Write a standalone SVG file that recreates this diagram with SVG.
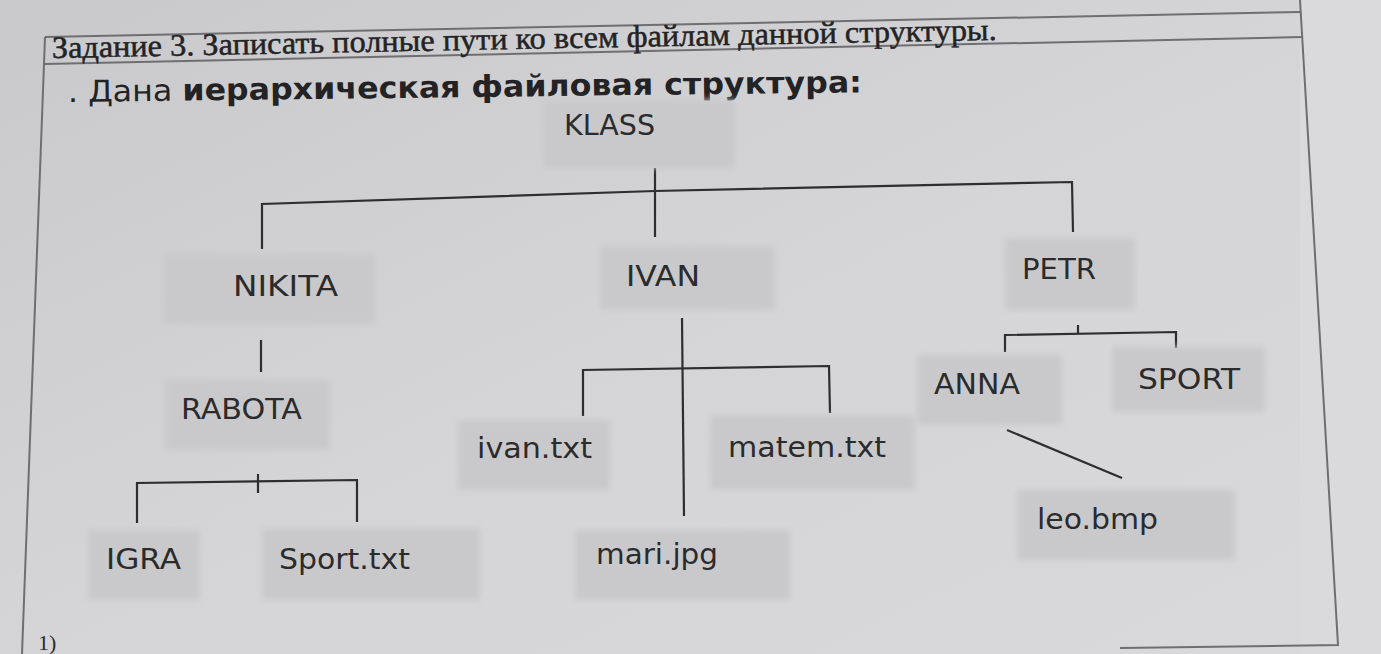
<svg xmlns="http://www.w3.org/2000/svg" width="1381" height="654" viewBox="0 0 1381 654">
<defs>
<linearGradient id="bg" x1="0" y1="0" x2="1" y2="1">
<stop offset="0" stop-color="#c9c9cb"/>
<stop offset="0.5" stop-color="#d5d5d7"/>
<stop offset="1" stop-color="#d9d9db"/>
</linearGradient>
<filter id="soft" x="-10%" y="-10%" width="120%" height="120%"><feGaussianBlur stdDeviation="3"/></filter>
<style>
.box{fill:#c9c9cb;filter:url(#soft)}
.lbl{font-family:"DejaVu Sans",Verdana,sans-serif;font-size:28px;fill:#2b2b2d}
.ln{stroke:#2e2e30;stroke-width:2.2;fill:none}
.frame{stroke:#6f6f72;stroke-width:2;fill:none}
</style>
</defs>
<rect width="1381" height="654" fill="url(#bg)"/>
<rect x="1300" y="0" width="81" height="654" fill="#dadadc"/>
<g id="frame">
<path class="frame" d="M45 37 L1300 12"/>
<path class="frame" d="M45 64 L1302 37"/>
<path class="frame" d="M45 37 L22 654"/>
<path class="frame" d="M1300 0 L1338 645 L1120 648"/>
</g>
<g id="header">
<text x="52" y="58" transform="rotate(-1.1 52 58)" font-family="Liberation Serif,serif" font-size="31" fill="#232325" stroke="#232325" stroke-width="0.5" textLength="945" lengthAdjust="spacingAndGlyphs">Задание 3. Записать полные пути ко всем файлам данной структуры.</text>
<text x="68" y="102" transform="rotate(-0.7 68 102)" font-family="DejaVu Sans,sans-serif" font-size="30" fill="#232325" textLength="794" lengthAdjust="spacingAndGlyphs">. Дана <tspan font-weight="bold">иерархическая файловая структура:</tspan></text>
</g>
<g id="connectors">
<path class="ln" d="M262 249 L262 204 L655 191 L1072 182 L1073 232"/>
<path class="ln" d="M655 168 L655 237"/>
<path class="ln" d="M261 340 L261 372"/>
<path class="ln" d="M137 523 L137 483 L357 480 L357 522"/>
<path class="ln" d="M258 474 L258 493"/>
<path class="ln" d="M682 318 L684 516"/>
<path class="ln" d="M583 416 L583 370 L829 366 L830 413"/>
<path class="ln" d="M1005 352 L1005 335 L1176 332 L1176 348"/>
<path class="ln" d="M1078 325 L1078 334"/>
<path class="ln" d="M1007 430 L1122 478"/>
</g>
<g id="KLASS"><rect class="box" x="543" y="100" width="192" height="68"/><text class="lbl" x="564" y="135" textLength="91" lengthAdjust="spacingAndGlyphs">KLASS</text></g>
<g id="NIKITA"><rect class="box" x="163" y="254" width="212" height="70"/><text class="lbl" x="233" y="296" textLength="105" lengthAdjust="spacingAndGlyphs">NIKITA</text></g>
<g id="IVAN"><rect class="box" x="600" y="246" width="175" height="64"/><text class="lbl" x="626" y="286" textLength="74" lengthAdjust="spacingAndGlyphs">IVAN</text></g>
<g id="PETR"><rect class="box" x="1005" y="238" width="130" height="72"/><text class="lbl" x="1022" y="279" textLength="74" lengthAdjust="spacingAndGlyphs">PETR</text></g>
<g id="RABOTA"><rect class="box" x="165" y="380" width="165" height="70"/><text class="lbl" x="181" y="419" textLength="121" lengthAdjust="spacingAndGlyphs">RABOTA</text></g>
<g id="IGRA"><rect class="box" x="88" y="530" width="112" height="70"/><text class="lbl" x="106" y="569" textLength="75" lengthAdjust="spacingAndGlyphs">IGRA</text></g>
<g id="Sport.txt"><rect class="box" x="262" y="528" width="218" height="72"/><text class="lbl" x="279" y="569" textLength="131" lengthAdjust="spacingAndGlyphs">Sport.txt</text></g>
<g id="ivan.txt"><rect class="box" x="458" y="420" width="152" height="70"/><text class="lbl" x="477" y="458" textLength="115" lengthAdjust="spacingAndGlyphs">ivan.txt</text></g>
<g id="matem.txt"><rect class="box" x="710" y="415" width="205" height="75"/><text class="lbl" x="728" y="457" textLength="158" lengthAdjust="spacingAndGlyphs">matem.txt</text></g>
<g id="mari.jpg"><rect class="box" x="575" y="530" width="215" height="70"/><text class="lbl" x="596" y="564" textLength="122" lengthAdjust="spacingAndGlyphs">mari.jpg</text></g>
<g id="ANNA"><rect class="box" x="917" y="355" width="145" height="70"/><text class="lbl" x="934" y="394" textLength="86" lengthAdjust="spacingAndGlyphs">ANNA</text></g>
<g id="SPORT"><rect class="box" x="1112" y="347" width="153" height="65"/><text class="lbl" x="1138" y="389" textLength="102" lengthAdjust="spacingAndGlyphs">SPORT</text></g>
<g id="leo.bmp"><rect class="box" x="1017" y="490" width="218" height="70"/><text class="lbl" x="1037" y="529" textLength="121" lengthAdjust="spacingAndGlyphs">leo.bmp</text></g>
<text x="38" y="650" font-family="Liberation Serif,serif" font-size="22" fill="#2b2b2d">1)</text>
</svg>
